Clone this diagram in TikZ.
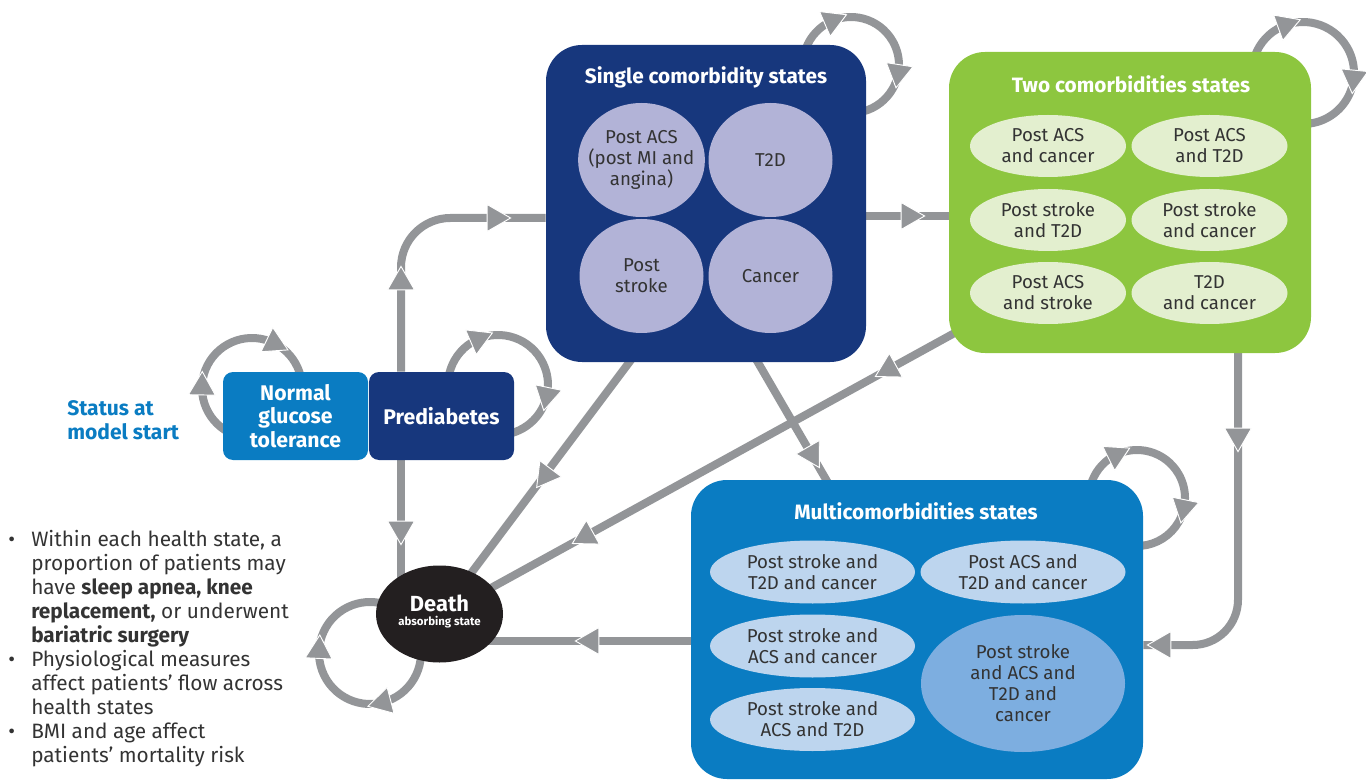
\documentclass[tikz,border=0pt]{standalone}
\usepackage{fontspec}
\setmainfont{Fira Sans}
\usetikzlibrary{calc,shapes.geometric,backgrounds}
\definecolor{navy}{HTML}{17377D}
\definecolor{mblue}{HTML}{0A7CC2}
\definecolor{lgreen}{HTML}{8DC63F}
\definecolor{lav}{HTML}{B2B3D7}
\definecolor{pgreen}{HTML}{E3EFCF}
\definecolor{pblue}{HTML}{BDD5EE}
\definecolor{bigblue}{HTML}{7DAEE0}
\definecolor{lg}{HTML}{939598}
\definecolor{deathc}{HTML}{231F20}
\definecolor{txt}{HTML}{333333}
\tikzset{
  ah/.pic={\filldraw[fill=lg,draw=white,line width=0.7pt] (11.7pt,0pt) -- (-5.85pt,10.1pt) -- (-5.85pt,-10.1pt) -- cycle;},
  conn/.style={draw=lg,line width=6pt},
  smallbox/.style={rectangle,rounded corners=7.5pt,minimum width=108.75pt,minimum height=66pt,inner sep=0pt,text=white,align=center,font=\bfseries\fontsize{15.9}{17.6}\selectfont},
  bigbox/.style={rectangle,rounded corners=27pt,inner sep=0pt},
  boxtitle/.style={text=white,font=\bfseries\fontsize{15.6}{17}\selectfont,inner sep=0pt},
  st/.style={ellipse,inner sep=0pt,text=txt,align=center,font=\fontsize{14}{15.8}\selectfont},
  circ/.style={st,fill=lav,minimum width=93pt,minimum height=85.5pt,inner sep=-6pt},
  two/.style={st,fill=pgreen,minimum width=117pt,minimum height=46.5pt,inner sep=-3pt},
  multi/.style={st,fill=pblue,minimum width=153.75pt,minimum height=47.25pt,inner sep=-3pt},
}
\begin{document}
\begin{tikzpicture}[x=0.75pt,y=-0.75pt]
\useasboundingbox (0,0) rectangle (1366,780);

% status text
\node[anchor=west,align=left,inner sep=0pt,text=mblue,font=\bfseries\fontsize{15.8}{18}\selectfont] (status) at (67,420) {Status at\\model start};

% boxes
\node[smallbox,fill=mblue] (normal) at (295.5,416) {Normal\\glucose\\tolerance};
\node[smallbox,fill=navy] (pre) at (441.5,416) {Prediabetes};
\node[bigbox,fill=navy,minimum width=240pt,minimum height=237.75pt] (single) at (706,203.5) {};
\node[bigbox,fill=lgreen,minimum width=271.5pt,minimum height=225.75pt] (two) at (1130,202.5) {};
\node[bigbox,fill=mblue,minimum width=339pt,minimum height=224.25pt] (multi) at (917,629.5) {};
\node[ellipse,fill=deathc,minimum width=95.25pt,minimum height=72.75pt,inner sep=0pt] (death) at (439.5,614) {};
\node[text=white,inner sep=0pt,font=\bfseries\fontsize{16.4}{17}\selectfont] (deathlbl) at (439.5,603) {Death};
\node[text=white,inner sep=0pt,font=\bfseries\fontsize{8.6}{10}\selectfont] (deathsub) at (439.5,622) {absorbing state};

% titles
\node[boxtitle] (singlet) at (706,77) {Single comorbidity states};
\node[boxtitle] (twot) at (1131,84) {Two comorbidities states};
\node[boxtitle] (multit) at (916,511) {Multicomorbidities states};

% single states
\node[circ] (s1) at (641.5,160) {Post ACS\\(post MI and\\angina)};
\node[circ] (s2) at (770.5,160) {T2D};
\node[circ] (s3) at (641.5,276) {Post\\stroke};
\node[circ] (s4) at (770.5,276) {Cancer};

% two states
\node[two] (t1) at (1048,146) {Post ACS\\and cancer};
\node[two] (t2) at (1209.5,146) {Post ACS\\and T2D};
\node[two] (t3) at (1048,220) {Post stroke\\and T2D};
\node[two] (t4) at (1209.5,220) {Post stroke\\and cancer};
\node[two] (t5) at (1048,293) {Post ACS\\and stroke};
\node[two] (t6) at (1209.5,293) {T2D\\and cancer};

% multi states
\node[multi] (m1) at (812.5,572) {Post stroke and\\T2D and cancer};
\node[multi] (m2) at (1023,572) {Post ACS and\\T2D and cancer};
\node[multi] (m3) at (812.5,646) {Post stroke and\\ACS and cancer};
\node[multi] (m4) at (812.5,719.5) {Post stroke and\\ACS and T2D};
\node[st,fill=bigblue,minimum width=153pt,minimum height=102.75pt,inner sep=-3pt] (m5) at (1023,683.5) {Post stroke\\and ACS and\\T2D and\\cancer};

% loop centres
\coordinate (cN) at (252,388);
\coordinate (cP) at (498,385);
\coordinate (cS) at (851,65);
\coordinate (cT) at (1303,73);
\coordinate (cM) at (1137,498);
\coordinate (cD) at (370,653);

\begin{pgfonlayer}{background}
  % connectors
  \draw[conn,rounded corners=37pt] ([shift={(-40.5,0)}]pre.north) |- ([shift={(0,14.5)}]single.west);
  \draw[conn] ([shift={(-40.5,0)}]pre.south) -- ([shift={(-40.5,0)}]pre.south |- death.center);
  \draw[conn] ([shift={(0,12.5)}]single.east) -- ([shift={(0,12.5)}]single.east -| two.west);
  \draw[conn] ([shift={(46,-10)}]single.south) -- ([shift={(-85,10)}]multi.north);
  \draw[conn] ([shift={(-73,-5)}]single.south) -- ([shift={(26.5,-34)}]death.center);
  \draw[conn] ([shift={(-155,119.25)}]two.center) -- ([shift={(40.5,-20)}]death.center);
  \draw[conn,rounded corners=34pt] ([shift={(108,-5)}]two.south) |- ([shift={(0,15.5)}]multi.east);
  \draw[conn] ([shift={(0,11.5)}]multi.west) -- ([shift={(0,11.5)}]multi.west -| death.center);
  % self loops
  \draw[conn] (cN) ++(100:50) arc[start angle=100,end angle=370,radius=50];
  \draw[conn] (cP) ++(160:50) arc[start angle=160,end angle=440,radius=50];
  \draw[conn] (cS) ++(150:48) arc[start angle=150,end angle=435,radius=48];
  \draw[conn] (cT) ++(150:51) arc[start angle=150,end angle=445,radius=51];
  \draw[conn] (cM) ++(150:48) arc[start angle=150,end angle=445,radius=48];
  \draw[conn] (cD) ++(-20:51) arc[start angle=-20,end angle=290,radius=51];
\end{pgfonlayer}

% arrowheads on straight connectors
\pic[rotate=90] at (401,282) {ah};
\pic[rotate=0] at (495,218) {ah};
\pic[rotate=-90] at (401,529) {ah};
\pic[rotate=0] at (909,216) {ah};
\pic[rotate=-60] at (811.5,454) {ah};
\pic[rotate=-126.8] at (546,475) {ah};
\pic[rotate=-151.2] at (889,369) {ah};
\pic[rotate=-151.2] at (586,536) {ah};
\pic[rotate=-90] at (1238,436) {ah};
\pic[rotate=180] at (1163,645) {ah};
\pic[rotate=180] at (591,641) {ah};

% arrowheads on loops
\pic[rotate=-271] at ($(cN)+(181:50)$) {ah};
\pic[rotate=-386] at ($(cN)+(296:50)$) {ah};
\pic[rotate=-336.5] at ($(cP)+(246.5:50)$) {ah};
\pic[rotate=-101.8] at ($(cP)+(11.8:50)$) {ah};
\pic[rotate=-336.8] at ($(cS)+(246.8:48)$) {ah};
\pic[rotate=-98.9] at ($(cS)+(8.9:48)$) {ah};
\pic[rotate=-340] at ($(cT)+(250:51)$) {ah};
\pic[rotate=-95.6] at ($(cT)+(5.6:51)$) {ah};
\pic[rotate=-333.6] at ($(cM)+(243.6:48)$) {ah};
\pic[rotate=-101.5] at ($(cM)+(11.5:48)$) {ah};
\pic[rotate=-272.7] at ($(cD)+(182.7:51)$) {ah};
\pic[rotate=-165.2] at ($(cD)+(75.2:51)$) {ah};

% notes
\node[anchor=north west,align=left,inner sep=0pt,text=txt,font=\fontsize{15.6}{18}\selectfont] (notes) at (31,530) {%
\llap{\makebox[17.25pt][l]{\textbullet}}Within each health state, a\\
proportion of patients may\\
have \textbf{sleep apnea, knee}\\
\textbf{replacement,} or underwent\\
\textbf{bariatric surgery}\\
\llap{\makebox[17.25pt][l]{\textbullet}}Physiological measures\\
affect patients' flow across\\
health states\\
\llap{\makebox[17.25pt][l]{\textbullet}}BMI and age affect\\
patients' mortality risk};
\end{tikzpicture}
\end{document}
